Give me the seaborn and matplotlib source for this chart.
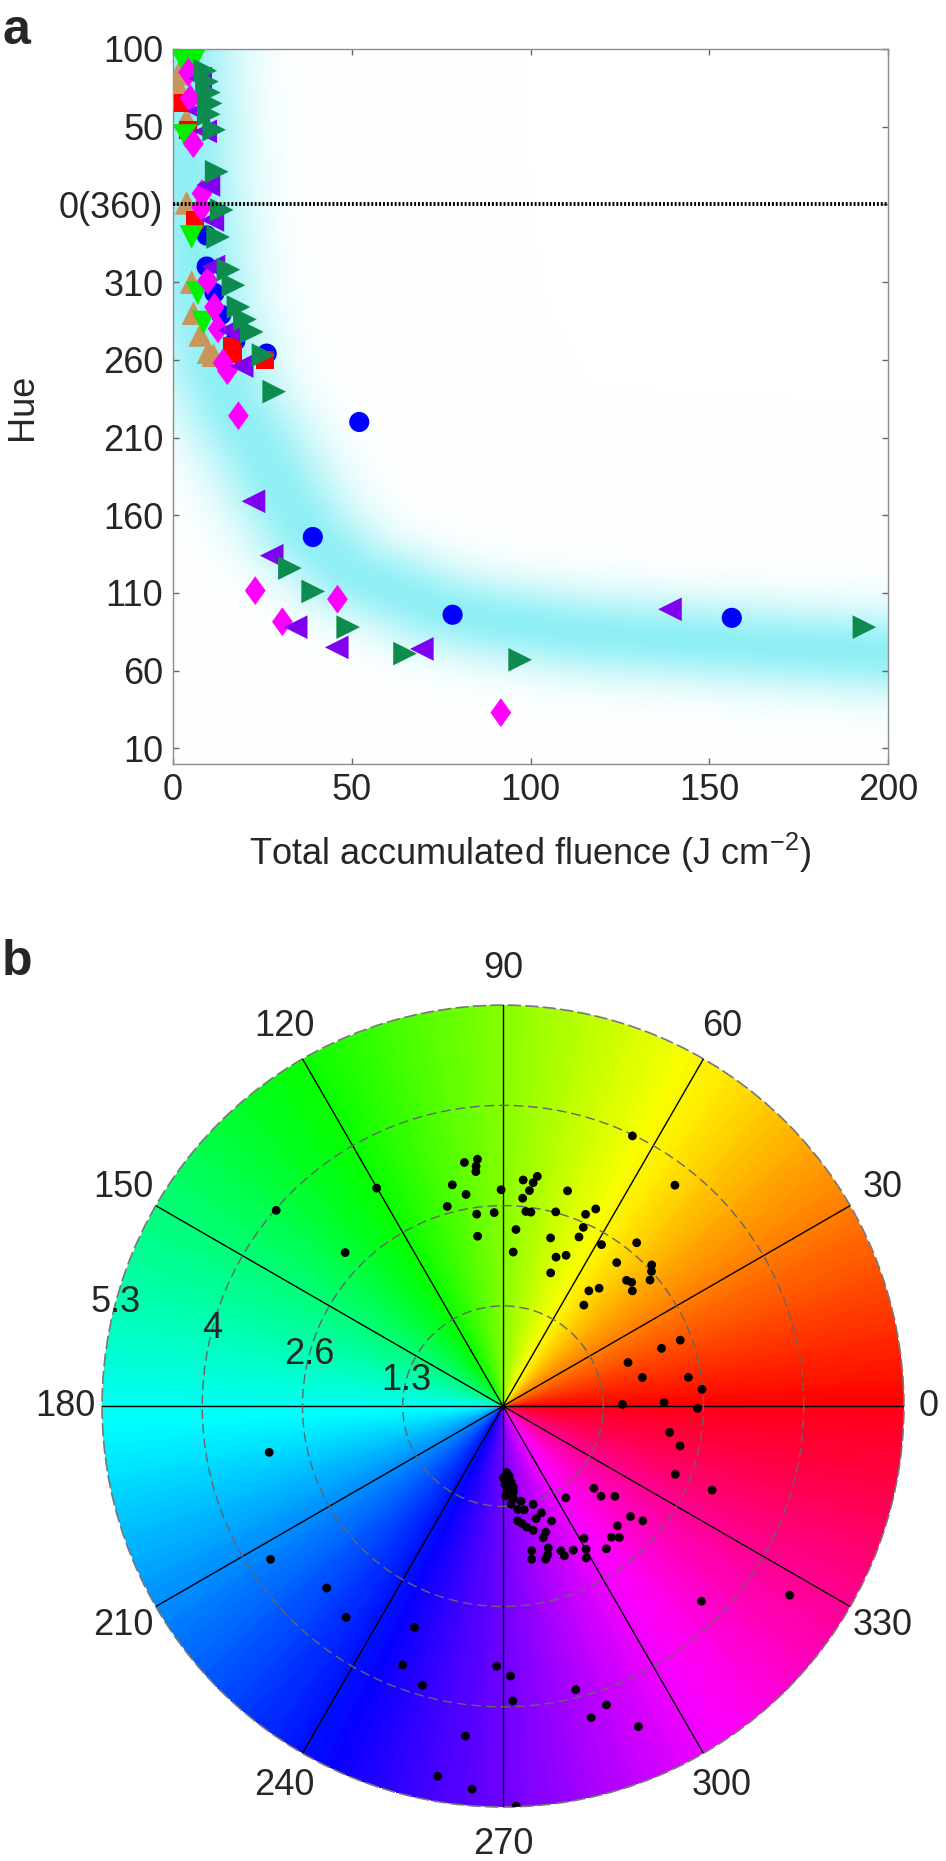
import numpy as np
import pandas as pd
import matplotlib.pyplot as plt
import seaborn as sns

# --- panel a: hue vs total accumulated fluence ---
# hue axis is unwrapped: values 100..0 as is, below 0(360) the value is hue-360
blue_x = [9.4, 9.4, 11.6, 13.5, 17.4, 26.2, 52.1, 39.1, 78.2, 156.3]
blue_u = [-20, -40, -57, -71, -88, -96, -140, -214, -264, -266]
red_x = [2.8, 4.2, 6.2, 16.4, 16.9, 25.7]
red_u = [65, 48, -10, -91, -96, -100]
lime_x = [2.9, 5.7, 3.4, 5.2, 6.9, 8.5]
lime_u = [92, 92, 44, -21, -57, -76]
tan_x = [1.5, 1.0, 2.5, 3.8, 3.8, 5.2, 5.7, 7.6, 9.9, 11.3]
tan_u = [84, 78, 70, 55, 1, -50, -70, -84, -95, -97]
mag_x = [4.3, 4.8, 5.7, 8.1, 8.0, 9.7, 11.6, 12.6, 14.0, 15.2, 18.3, 23.0, 30.6, 46.0, 91.7]
mag_u = [85, 68, 39, 7, -2, -49, -66, -80, -102, -107, -136, -248.5, -268.5, -254, -327]
pur_x = [7.6, 7.0, 9.0, 9.9, 11.0, 11.3, 15.8, 19.2, 22.5, 27.6, 34.3, 45.8, 69.6, 139.0]
pur_u = [81, 60, 47, 12.5, -10, -40, -81, -104, -191, -226, -272, -285, -286, -260.5]
dkg_x = [9.0, 9.5, 10.0, 10.5, 10.0, 11.5, 12.2, 13.6, 12.6, 15.5, 16.9, 18.3, 20.1, 22.0,
         25.3, 28.3, 32.7, 39.2, 49.0, 64.9, 97.1, 193.4]
dkg_u = [86, 79, 72, 65, 58, 48, 21, -3.6, -21, -42, -52, -66, -74, -82,
         -97, -120.5, -234, -249, -272, -289, -293, -272]

# guide band (centre line)
band_x = [0, 2, 4, 7, 12, 17, 22.5, 30, 37.5, 49.5, 72.8, 87, 114.7, 152, 200, 215]
band_u = [140, 100, 10, -60, -105, -132, -152, -184, -212, -237, -259, -267, -276, -282, -289, -290]

hue_ticks = [100, 50, 0, -50, -100, -150, -200, -250, -300, -350]
hue_labels = ["100", "50", "0(360)", "310", "260", "210", "160", "110", "60", "10"]

# --- panel b: polar hue plot ---
dot_hue = [139.2, 135.8, 120.1, 99.0, 95.9, 96.4, 96.6, 102.9, 99.9, 90.5, 105.6, 97.8, 92.6, 98.5, 85.8, 86.2,
           64.4, 52.1, 84.9, 81.5, 82.3, 83.0, 84.6, 73.3, 83.3, 81.8, 74.8, 64.8, 66.7, 65.8, 65.8, 74.2,
           58.6, 50.7, 70.4, 67.3, 51.6, 43.5, 42.2, 70.3, 45.5, 43.9, 40.6, 41.7, 53.3, 50.8, 51.3, 20.4,
           20.0, 19.2, 11.6, 8.8, 4.8,
           0.8, 1.2, 359.3, 351.0, 347.3, 338.4, 338.1, 317.9, 317.4, 321.1, 304.4, 319.1, 320.6, 313.7,
           309.6, 311.5, 301.5, 300.1, 298.7, 305.9, 296.0, 291.8, 292.3, 287.7, 286.8, 285.6, 281.2, 280.6,
           287.0, 288.8, 283.7, 281.1, 279.1, 277.3, 286.4, 289.9, 292.9, 287.1, 281.6, 278.1, 280.7, 274.7,
           276.4, 271.9, 276.9, 273.3, 277.3, 271.5, 276.0, 270.2, 275.1, 273.2, 268.6, 271.6, 271.9, 284.4,
           289.1, 285.8, 292.9, 271.9, 315.5, 326.6,
           191.2, 213.4, 225.9, 233.4, 248.2, 248.8, 253.9, 263.5, 260.0, 265.4]
dot_r = [3.96, 2.91, 3.33, 3.26, 3.28, 3.19, 3.12, 3.00, 2.84, 2.86, 2.74, 2.56, 2.56, 2.27, 2.34, 2.04,
         3.96, 3.70, 3.00, 3.07, 2.98, 2.87, 2.76, 2.97, 2.59, 2.59, 2.66, 2.88, 2.76, 2.59, 2.45, 2.31,
         2.50, 2.79, 2.09, 2.16, 2.42, 2.71, 2.65, 1.87, 2.33, 2.36, 2.56, 2.29, 1.90, 2.01, 1.71, 2.50,
         2.23, 1.75, 1.88, 2.48, 2.64,
         1.58, 2.13, 2.57, 2.23, 2.40, 2.45, 2.98, 1.62, 1.76, 1.90, 1.47, 2.23, 2.39, 2.19,
         2.25, 2.32, 2.05, 2.19, 2.29, 2.33, 2.12, 2.06, 2.14, 1.97, 2.05, 2.10, 1.95, 2.06,
         1.82, 1.76, 1.69, 1.63, 1.57, 1.53, 1.55, 1.50, 1.65, 1.36, 1.40, 1.38, 1.28, 1.30,
         1.23, 1.19, 1.14, 1.09, 1.08, 1.04, 1.01, 0.95, 0.93, 0.88, 3.44, 3.57, 3.90, 3.87,
         4.18, 4.28, 4.60, 5.29, 3.68, 4.54,
         3.15, 3.68, 3.35, 3.48, 3.15, 3.67, 3.84, 4.39, 4.97, 5.08]
r_rings = [1.325, 2.65, 3.975, 5.3]
r_labels = ["1.3", "2.6", "4", "5.3"]
theta_ticks = list(range(0, 360, 30))

sns.set_theme(style="white")
plt.rcParams["font.family"] = ["Liberation Sans", "DejaVu Sans"]
plt.rcParams["mathtext.fontset"] = "custom"
plt.rcParams["mathtext.rm"] = "Liberation Sans"
plt.rcParams["mathtext.it"] = "Liberation Sans:italic"
FS = 26

fig = plt.figure(figsize=(9.46, 18.61), dpi=100)

# ---------------- panel a ----------------
ax = fig.add_axes([0.1829, 0.5895, 0.7558, 0.3842])
XMAX, UMIN, UMAX = 200, -360, 100
W = H = 715.0  # axes size in px

# cyan guide band: distance (in px) from each pixel to the centre line,
# horizontal spread a bit wider than vertical
bx = np.array(band_x) * W / XMAX
bu = (np.array(band_u) - UMIN) * H / (UMAX - UMIN)
line = np.concatenate([np.column_stack([np.linspace(bx[i], bx[i + 1], 60),
                                        np.linspace(bu[i], bu[i + 1], 60)])
                       for i in range(len(bx) - 1)])
gx = np.linspace(0, W, 360)
gy = np.linspace(0, H, 360)
dist = np.empty((len(gy), len(gx)))
for j, yy in enumerate(gy):
    d = np.hypot(0.72 * (gx[:, None] - line[None, :, 0]), yy - line[None, :, 1])
    dist[j] = d.min(axis=1)
a = np.exp(-(dist / 42.0) ** 2)
peak = np.array([0.56, 0.94, 0.96])
img = 1 - a[..., None] * (1 - peak)
ax.imshow(img, extent=(0, XMAX, UMIN, UMAX), origin="lower", aspect="auto",
          interpolation="bilinear", zorder=0)

diamond = [(0, 1), (0.72, 0), (0, -1), (-0.72, 0), (0, 1)]
series = [
    (blue_x, blue_u, "o", "#0000FF", 210),
    (tan_x, tan_u, "^", "#C8965A", 290),
    (red_x, red_u, "s", "#FF0000", 170),
    (lime_x, lime_u, "v", "#00F000", 290),
    (mag_x, mag_u, diamond, "#FF00FF", 430),
    (pur_x, pur_u, "<", "#8000F0", 290),
    (dkg_x, dkg_u, ">", "#0E8C50", 290),
]
for xs, us, mk, col, s in series:
    df = pd.DataFrame({"fluence": xs, "hue": us})
    sns.scatterplot(data=df, x="fluence", y="hue", marker=mk, color=col, s=s,
                    edgecolor="none", linewidth=0, legend=False, ax=ax, zorder=3)

ax.axhline(0, color="black", lw=2.8, ls=(0, (0.5, 0.5)), zorder=5)

ax.set_xlim(0, XMAX)
ax.set_ylim(UMIN, UMAX)
ax.set_xticks([0, 50, 100, 150, 200])
ax.set_yticks(hue_ticks)
ax.set_yticklabels(hue_labels)
ax.tick_params(axis="both", which="major", direction="in", length=4.5, width=1,
               color="#666666", labelsize=FS, top=True, right=True, bottom=True, left=True)
ax.tick_params(axis="x", pad=6.5)
ax.tick_params(axis="y", pad=7)
for sp in ax.spines.values():
    sp.set_visible(True)
    sp.set_color("#8c8c8c")
    sp.set_linewidth(1)
ax.set_xlabel("Total accumulated fluence (J cm$^{-2}$)", fontsize=FS, va="baseline")
ax.xaxis.set_label_coords(0.5, -0.142)
ax.set_ylabel("Hue", fontsize=FS)
ax.yaxis.set_label_coords(-0.186, 0.5)

# ---------------- panel b ----------------
axp = fig.add_axes([0.1078, 0.0290, 0.8478, 0.4309], projection="polar")
th_edges = np.linspace(0, 2 * np.pi, 721)
r_edges = np.array([0, r_rings[-1]])
C = ((th_edges[:-1] + th_edges[1:]) / 2)[None, :]
axp.pcolormesh(th_edges, r_edges, C, cmap="hsv", vmin=0, vmax=2 * np.pi,
               shading="flat", zorder=0, rasterized=True)

dots = pd.DataFrame({"theta": np.deg2rad(dot_hue), "r": dot_r})
sns.scatterplot(data=dots, x="theta", y="r", color="black", s=40, edgecolor="none",
                legend=False, ax=axp, zorder=4)

axp.set_ylim(0, r_rings[-1])
axp.set_axisbelow(False)
axp.set_xticks(np.deg2rad(theta_ticks))
axp.set_xticklabels([])
axp.set_yticks(r_rings[:-1])
axp.set_yticklabels([])
axp.set_xlabel("")
axp.set_ylabel("")
axp.tick_params(length=0)
axp.xaxis.grid(True, color="black", lw=1.0, ls="-")
axp.yaxis.grid(True, color="#666666", lw=1.0, ls=(0, (7, 3.5)))
axp.spines["polar"].set_color("#777777")
axp.spines["polar"].set_linestyle((0, (7, 3.5)))
axp.spines["polar"].set_linewidth(1.2)

for t in theta_ticks:
    rt = 5.62 if t == 0 else 5.79
    axp.text(np.deg2rad(t), rt, str(t), fontsize=FS, ha="center", va="center")
for rr, lab in zip(r_rings, r_labels):
    axp.text(np.deg2rad(165), rr, lab, fontsize=FS, ha="center", va="center", zorder=5)

fig.text(0.003, 1 - 44 / 1861, "a", fontsize=36, fontweight="bold", ha="left", va="baseline")
fig.text(0.002, 1 - 975 / 1861, "b", fontsize=36, fontweight="bold", ha="left", va="baseline")

fig.savefig("out.png", dpi=100)
